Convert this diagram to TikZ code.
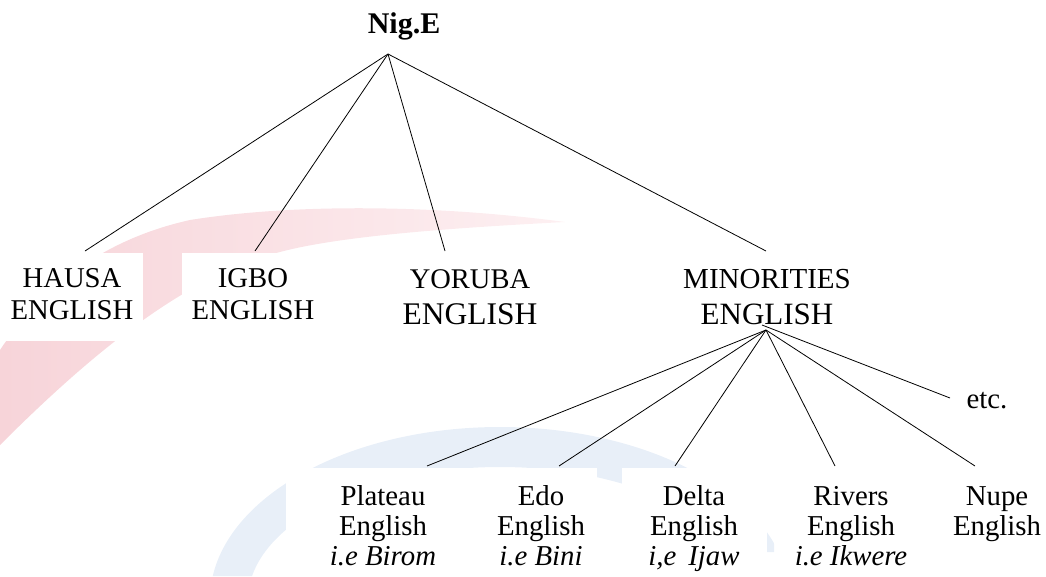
\documentclass[tikz,border=0pt]{standalone}
\usepackage{fontspec}
\setmainfont{Liberation Serif}
\usetikzlibrary{calc}

% centred multi-line label whose baseline is that of its first line
\newcommand\stacked[1]{\begin{tabular}[t]{@{}c@{}}#1\end{tabular}}

\definecolor{wmred}{RGB}{247,212,217}
\definecolor{wmredpale}{RGB}{253,240,242}
\definecolor{wmblue}{RGB}{232,239,248}

\begin{document}
\begin{tikzpicture}[x=1pt,y=-1pt,
  labelbox/.style={fill=white, anchor=base},
  upperlabel/.style={labelbox, inner xsep=10pt, inner ysep=12pt, font=\fontsize{28.7}{32}\selectfont},
  upperwide/.style={labelbox, inner xsep=10pt, inner ysep=12pt, font=\fontsize{28.5}{36}\selectfont},
  lowerlabel/.style={labelbox, inner xsep=12pt, inner ysep=16pt, font=\fontsize{28.8}{30}\selectfont},
  branch/.style={draw=black, line width=0.8pt}]

\useasboundingbox (0,0) rectangle (1046,576);

% faint background watermark: a red swoosh and a blue arch
\begin{scope}
  \clip (0,0) rectangle (1046,576);
  \shade[left color=wmred, right color=wmredpale]
    (0,350) .. controls (40,290) and (100,240) .. (190,220)
            .. controls (290,204) and (430,204) .. (565,222)
            .. controls (450,228) and (340,236) .. (280,252)
            .. controls (190,275) and (100,345) .. (0,445) -- cycle;
\end{scope}
\begin{scope}
  \clip (0,0) rectangle (700,576) (767,522) rectangle (774,552);
  \fill[wmblue, even odd rule]
    (500,600) ellipse [x radius=290pt, y radius=173pt]
    (500,600) ellipse [x radius=252pt, y radius=133pt];
\end{scope}

% root
\node[font=\fontsize{30}{36}\selectfont\bfseries, anchor=base, inner sep=0pt] (nige) at (404,33) {Nig.E};

% first level
\node[upperlabel] (hausa) at (72,287) {\stacked{HAUSA\\ENGLISH}};
\node[upperlabel] (igbo) at (253,287) {\stacked{IGBO\\ENGLISH}};
\node[upperwide] (yoruba) at (470,288) {\stacked{YORUBA\\\fontsize{31.5}{36}\selectfont ENGLISH}};
\node[upperwide] (minor) at (767,288) {\stacked{\fontsize{29}{36}\selectfont MINORITIES\\\fontsize{31}{36}\selectfont ENGLISH}};

% second level
\node[lowerlabel, inner xsep=44pt] (plateau) at (383,505) {\stacked{Plateau\\English\\\itshape i.e Birom}};
\node[lowerlabel] (edo) at (541,505) {\stacked{Edo\\English\\\itshape i.e Bini}};
\node[lowerlabel, inner xsep=26pt] (delta) at (694,505) {\stacked{Delta\\English\\\itshape i,e \,Ijaw}};
\node[lowerlabel] (rivers) at (851,505) {\stacked{Rivers\\English\\\itshape i.e Ikwere}};
\node[lowerlabel] (nupe) at (997,505) {\stacked{Nupe\\English}};
\node[labelbox, inner sep=6pt, font=\fontsize{28.8}{30}\selectfont] (etc) at (987,408) {etc.};

% branching points
\coordinate (hubtop) at ($(nige.base)+(-16,21)$);
\coordinate (hubmin) at ($(minor.base)+(-1,42)$);

% branches
\draw[branch] (hubtop) -- ($(hausa.base)+(13,-36)$);
\draw[branch] (hubtop) -- ($(igbo.base)+(2,-36)$);
\draw[branch] (hubtop) -- ($(yoruba.base)+(-25,-37)$);
\draw[branch] (hubtop) -- ($(minor.base)+(-1,-37)$);

\draw[branch] (hubmin) -- ($(plateau.base)+(44,-39)$);
\draw[branch] (hubmin) -- ($(edo.base)+(18,-39)$);
\draw[branch] (hubmin) -- ($(delta.base)+(-19,-39)$);
\draw[branch] (hubmin) -- ($(rivers.base)+(-16,-39)$);
\draw[branch] (hubmin) -- ($(nupe.base)+(-22,-39)$);
\draw[branch] ($(hubmin)+(-4,-5)$) -- ($(etc.base)+(-37,-10)$);
\end{tikzpicture}
\end{document}
